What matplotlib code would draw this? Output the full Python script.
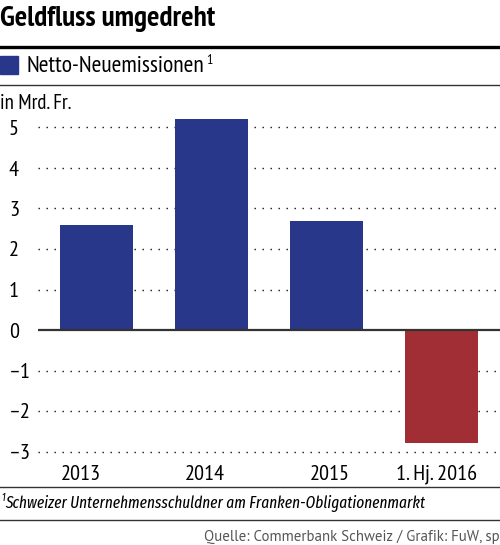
import matplotlib
matplotlib.use("Agg")
import matplotlib.pyplot as plt
from matplotlib.lines import Line2D
from matplotlib.patches import Rectangle

categories = ["2013", "2014", "2015", "1. Hj. 2016"]
values = [2.6, 5.2, 2.7, -2.8]
yticks = [5, 4, 3, 2, 1, 0, -1, -2, -3]
ytick_labels = ["5", "4", "3", "2", "1", "0", "\u20131", "\u20132", "\u20133"]

title = "Geldfluss umgedreht"
legend_label = "Netto-Neuemissionen"
unit_label = "in Mrd. Fr."
footnote = "Schweizer Unternehmensschuldner am Franken-Obligationenmarkt"
source = "Quelle: Commerbank Schweiz / Grafik: FuW, sp"

BLUE = "#283789"
RED = "#a12e34"

COND = ["PT Sans Narrow", "DejaVu Sans"]
ITAL = ["Fira Sans Extra Condensed", "DejaVu Sans"]
plt.rcParams["font.family"] = COND

W, H = 500, 545
fig = plt.figure(figsize=(W / 100, H / 100), dpi=100)

def fx(px):
    return px / W

def fy(py):
    return 1 - py / H

# axes geometry
ax_left, ax_right = 38, 500
y0_px, unit_px = 330, 40.5
ylim = (-3.1, 5.4)
ax_bottom_px = y0_px - ylim[0] * unit_px
ax_top_px = y0_px - ylim[1] * unit_px
ax = fig.add_axes([fx(ax_left), fy(ax_bottom_px), fx(ax_right - ax_left),
                   (ax_bottom_px - ax_top_px) / H])
ax.set_ylim(*ylim)
ax.set_xlim(-0.509, 3.509)

x = list(range(len(categories)))
colors = [BLUE if v >= 0 else RED for v in values]
ax.bar(x, values, width=0.635, color=colors, zorder=3)

for t in yticks:
    if t == 0:
        ax.axhline(0, color="#333333", lw=1.6, zorder=4)
    else:
        ax.axhline(t, color="#111111", lw=1.0, linestyle=(0, (1, 4.76)), zorder=1)

ax.set_yticks(yticks)
ax.set_yticklabels(ytick_labels, fontsize=16, ha="left")
ax.tick_params(axis="y", length=0, pad=21)

# category labels sit slightly off the bar centres in the original layout
label_shift = [-0.135, -0.057, 0.03, -0.04]
ax.set_xticks([xi + s for xi, s in zip(x, label_shift)])
ax.set_xticklabels(categories, fontsize=16)
ax.tick_params(axis="x", length=0, pad=7)
for s in ax.spines.values():
    s.set_visible(False)
ax.set_facecolor("none")

# header
fig.text(fx(0), fy(19), title, fontsize=21, fontweight="bold", va="center", ha="left")
fig.add_artist(Line2D([0, 1], [fy(47), fy(47)], color="black", lw=2.4))
fig.add_artist(Rectangle((fx(0), fy(74)), fx(18), 18 / H, color=BLUE))
fig.text(fx(27), fy(66), legend_label, fontsize=17, va="center", ha="left")
fig.text(fx(206), fy(60), "1", fontsize=10, va="center", ha="left")
fig.add_artist(Line2D([0, 1], [fy(85), fy(85)], color="#333333", lw=1.0))
fig.text(fx(0), fy(103), unit_label, fontsize=15, va="center", ha="left")

# footer
fig.add_artist(Line2D([0, 1], [fy(487), fy(487)], color="#333333", lw=1.0))
fig.text(fx(1), fy(498), "1", fontsize=7.5, va="center", ha="left", style="italic",
         family=ITAL)
fig.text(fx(5), fy(503), footnote, fontsize=12, va="center", ha="left", style="italic",
         family=ITAL)
fig.add_artist(Line2D([0, 1], [fy(520), fy(520)], color="#333333", lw=1.0))
fig.text(fx(500), fy(537), source, fontsize=10.7, va="center", ha="right",
         color="#555555", family=["PT Sans", "DejaVu Sans"])

fig.savefig("out.png", dpi=100)
